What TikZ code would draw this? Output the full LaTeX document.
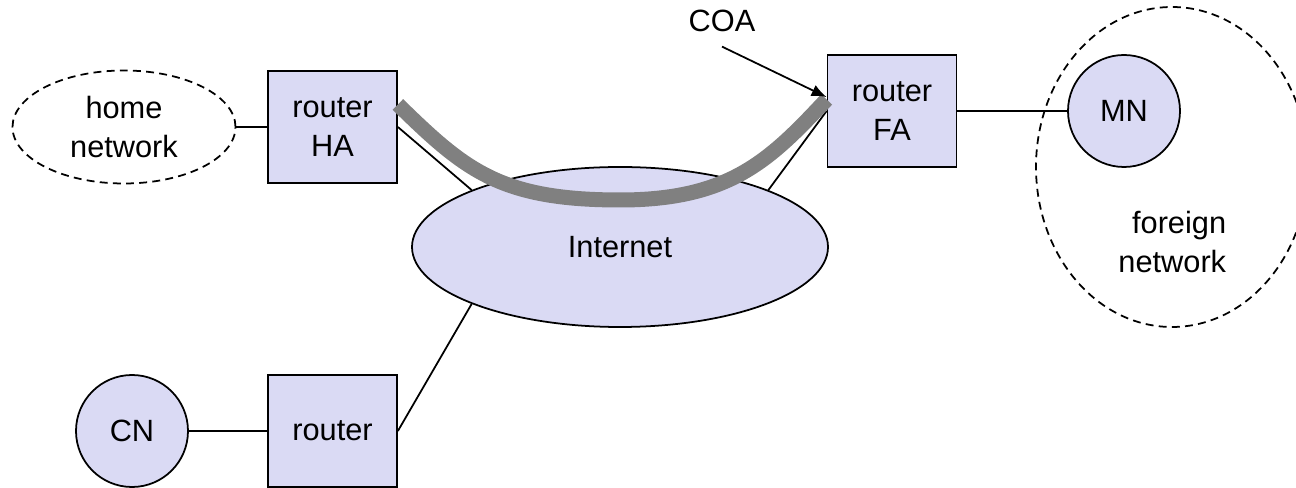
\documentclass[tikz,border=0pt]{standalone}
\usepackage{fontspec}
\setmainfont{Liberation Sans}
\usepackage{xcolor}
\usepackage{tikz}
\usetikzlibrary{shapes.geometric, arrows.meta}

\definecolor{lavender}{RGB}{218,218,244}

\begin{document}
\begin{tikzpicture}[line width=1pt,
        font=\fontsize{17.5}{22}\selectfont,
        box/.style={draw, fill=lavender, minimum width=2.58cm, minimum height=2.24cm, inner sep=0pt, align=center},
        host/.style={draw, circle, fill=lavender, minimum size=2.24cm, inner sep=0pt},
        net/.style={draw, ellipse, dash pattern=on 4.5pt off 3pt, inner sep=0pt, align=center}]
            \useasboundingbox (0,0) rectangle (25.92,9.76);
            \clip (0,0) rectangle (25.92,9.76);
            \node[net, minimum width=4.46cm, minimum height=2.26cm] (home) at (2.48,7.22) {home\\network};
            \node[net, minimum width=5.44cm, minimum height=6.4cm] (foreign) at (23.44,6.42) {};
            \node[align=right, anchor=east, inner sep=0pt] (foreigntext) at (24.54,4.92) {foreign\\network};
            \node[draw, ellipse, fill=lavender, minimum width=8.32cm, minimum height=3.2cm, inner sep=0pt] (inet) at (12.4,4.82) {Internet};
            \node[box] (ha) at (6.65,7.22) {router\\HA};
            \node[box] (fa) at (17.84,7.54) {router\\FA};
            \node[box] (rt) at (6.65,1.14) {router};
            \node[host] (mn) at (22.48,7.54) {MN};
            \node[host] (cn) at (2.64,1.14) {CN};
            \node (coa) at (14.44,9.34) {COA};
            \draw (home) -- (ha);
            \draw (fa) -- (mn);
            \draw (cn) -- (rt);
            \draw (ha.east) -- (inet.159);
            \draw (fa.west) -- (inet.21);
            \draw (rt.east) -- (inet.201);
            % tunnel
            \draw[gray, line width=0.3cm] (ha.19) .. controls (9.30,6.36) and (10.0,5.76) .. (12.4,5.76)
                .. controls (14.6,5.76) and (15.4,6.56) .. (fa.170);
            \draw[-{Latex[length=0.3cm, width=0.24cm]}] ([yshift=-0.16cm]coa.south) -- (fa.168);
        \end{tikzpicture}
\end{document}
